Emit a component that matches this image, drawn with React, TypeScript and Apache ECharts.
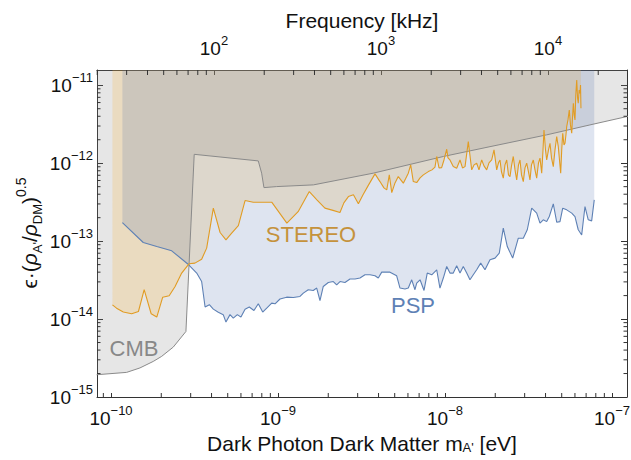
import React, { useEffect, useRef } from "react";
import * as echarts from "echarts";

const FONT = '"Liberation Sans", Arial, Helvetica, sans-serif';
const EV_TO_KHZ = 2.417989e11;

// axis ranges
const massRange = [8.245e-11, 1.23e-7];
const epsRange = [1e-15, 1.57e-11];
const freqRange = [massRange[0] * EV_TO_KHZ, massRange[1] * EV_TO_KHZ];

// minor tick mantissas and decades
const minorMantissas = [2, 3, 4, 5, 6, 7, 8, 9];
const massDecades = [1e-10, 1e-9, 1e-8];
const freqDecades = [10, 100, 1000, 10000];
const epsDecades = [1e-15, 1e-14, 1e-13, 1e-12, 1e-11];

// CMB bound [mass eV, eps]
const cmb: [number, number][] = [
  [8.2e-11, 1.93e-15], [1.24e-10, 2.07e-15], [1.49e-10, 2.36e-15], [1.79e-10, 2.86e-15],
  [2.01e-10, 3.32e-15], [2.36e-10, 4.37e-15], [2.81e-10, 6.93e-15], [3.15e-10, 1.3e-12],
  [7.62e-10, 1.07e-12], [7.98e-10, 7.45e-13], [8.24e-10, 4.86e-13], [9.82e-10, 5.01e-13],
  [1.63e-9, 5.27e-13], [3.72e-9, 7.45e-13], [9.78e-9, 1.22e-12], [1.86e-8, 1.63e-12],
  [4.06e-8, 2.31e-12], [7.38e-8, 3.1e-12], [1.25e-7, 4.0e-12],
];

// STEREO bound
const stereo: [number, number][] = [
  [1.02e-10, 1.52e-14], [1.08e-10, 1.38e-14], [1.185e-10, 1.23e-14], [1.33e-10, 1.17e-14],
  [1.46e-10, 1.25e-14], [1.58e-10, 2.38e-14], [1.74e-10, 1.17e-14], [1.88e-10, 1.06e-14],
  [2.04e-10, 1.91e-14], [2.23e-10, 1.99e-14], [2.42e-10, 2.62e-14], [2.65e-10, 3.89e-14],
  [2.93e-10, 5.12e-14], [3.18e-10, 5.22e-14], [3.49e-10, 5.87e-14], [3.74e-10, 8.13e-14],
  [4.1e-10, 2.65e-13], [4.5e-10, 1.29e-13], [4.88e-10, 1.04e-13], [5.28e-10, 1.27e-13],
  [5.79e-10, 1.58e-13], [6.35e-10, 3.32e-13], [7.11e-10, 3.16e-13], [9.17e-10, 3.16e-13],
  [1.13e-9, 1.7e-13], [1.32e-9, 2.39e-13], [1.54e-9, 4.33e-13], [1.71e-9, 3.39e-13],
  [1.91e-9, 2.65e-13], [2.135e-9, 2.48e-13], [2.35e-9, 2.33e-13], [2.48e-9, 3.1e-13],
  [2.64e-9, 3.73e-13], [2.83e-9, 3.93e-13], [3.03e-9, 3.01e-13], [3.23e-9, 3.93e-13],
  [3.46e-9, 5.12e-13], [3.81e-9, 7.29e-13], [4.08e-9, 5.81e-13], [4.31e-9, 4.82e-13],
  [4.48e-9, 4.55e-13], [4.64e-9, 7.08e-13], [4.8e-9, 4.2e-13], [5.02e-9, 5.59e-13],
  [5.25e-9, 6.73e-13], [5.63e-9, 5.54e-13], [6.03e-9, 7.45e-13], [6.23e-9, 9.51e-13],
  [6.46e-9, 5.81e-13], [6.77e-9, 5.64e-13], [7.09e-9, 6.48e-13], [7.42e-9, 7.08e-13],
  [7.95e-9, 7.8e-13], [8.36e-9, 8.21e-13], [8.71e-9, 8.89e-13], [8.92e-9, 1.22e-12],
  [9.21e-9, 8.7e-13], [9.55e-9, 8.78e-13], [9.86e-9, 1.1e-12], [1.024e-8, 1.51e-12],
  [1.042e-8, 1.17e-12], [1.071e-8, 1.1e-12], [1.121e-8, 9.04e-13], [1.175e-8, 8.63e-13],
  [1.23e-8, 1.1e-12], [1.273e-8, 8.7e-13], [1.318e-8, 9.04e-13], [1.379e-8, 1.89e-12],
  [1.445e-8, 8.21e-13], [1.492e-8, 9.51e-13], [1.548e-8, 1.0e-12], [1.598e-8, 8.21e-13],
  [1.659e-8, 1.1e-12], [1.712e-8, 9.23e-13], [1.777e-8, 8.21e-13], [1.834e-8, 1.01e-12],
  [1.904e-8, 1.1e-12], [1.966e-8, 1.48e-12], [2.04e-8, 8.21e-13], [2.091e-8, 1.01e-12],
  [2.135e-8, 1.1e-12], [2.179e-8, 7.74e-13], [2.234e-8, 6.42e-13], [2.287e-8, 9.51e-13],
  [2.342e-8, 1.1e-12], [2.4e-8, 7.08e-13], [2.45e-8, 6.73e-13], [2.502e-8, 9.23e-13],
  [2.564e-8, 1.22e-12], [2.626e-8, 8.21e-13], [2.688e-8, 6.11e-13], [2.755e-8, 9.51e-13],
  [2.813e-8, 1.1e-12], [2.872e-8, 7.08e-13], [2.944e-8, 5.81e-13], [3.013e-8, 8.7e-13],
  [3.085e-8, 1.0e-12], [3.162e-8, 7.74e-13], [3.228e-8, 6.11e-13], [3.296e-8, 9.51e-13],
  [3.379e-8, 1.1e-12], [3.459e-8, 8.21e-13], [3.541e-8, 6.42e-13], [3.63e-8, 1.01e-12],
  [3.706e-8, 1.16e-12], [3.794e-8, 7.45e-13], [3.863e-8, 1.48e-12], [3.916e-8, 2.67e-12],
  [3.998e-8, 1.48e-12], [4.064e-8, 1.1e-12], [4.167e-8, 1.48e-12], [4.254e-8, 1.8e-12],
  [4.343e-8, 1.17e-12], [4.452e-8, 9.04e-13], [4.557e-8, 1.48e-12], [4.667e-8, 2.19e-12],
  [4.769e-8, 1.63e-12], [4.849e-8, 1.1e-12], [4.93e-8, 7.45e-13], [5.0e-8, 1.48e-12],
  [5.07e-8, 2.42e-12], [5.16e-8, 1.72e-12], [5.231e-8, 1.8e-12], [5.3e-8, 2.3e-12],
  [5.355e-8, 2.95e-12], [5.45e-8, 3.59e-12], [5.55e-8, 4.82e-12], [5.64e-8, 3.1e-12],
  [5.74e-8, 2.42e-12], [5.8e-8, 3.81e-12], [5.87e-8, 5.88e-12], [5.94e-8, 4.16e-12],
  [6.004e-8, 3.59e-12], [6.07e-8, 7.51e-12], [6.15e-8, 1.17e-11], [6.22e-8, 6.87e-12],
  [6.28e-8, 5.88e-12], [6.36e-8, 8.7e-12], [6.433e-8, 7.89e-12], [6.48e-8, 1.01e-11],
  [6.52e-8, 5.07e-12],
];

// PSP bound
const psp: [number, number][] = [
  [1.17e-10, 1.73e-13], [1.56e-10, 9.6e-14], [1.88e-10, 8.53e-14], [2.31e-10, 7.51e-14],
  [2.92e-10, 4.97e-14], [3.26e-10, 3.89e-14], [3.49e-10, 3.03e-14], [3.66e-10, 1.43e-14],
  [3.88e-10, 1.53e-14], [4.1e-10, 1.34e-14], [4.39e-10, 1.22e-14], [4.7e-10, 1.14e-14],
  [4.88e-10, 9.15e-15], [5.16e-10, 1.14e-14], [5.4e-10, 1.03e-14], [5.71e-10, 1.14e-14],
  [6.0e-10, 1.06e-14], [6.35e-10, 1.34e-14], [6.73e-10, 1.43e-14], [7.18e-10, 1.29e-14],
  [7.62e-10, 1.57e-14], [8.1e-10, 1.23e-14], [8.56e-10, 1.38e-14], [9.17e-10, 1.6e-14],
  [9.6e-10, 1.57e-14], [1.028e-9, 1.81e-14], [1.127e-9, 1.91e-14], [1.235e-9, 1.89e-14],
  [1.354e-9, 1.95e-14], [1.418e-9, 2.15e-14], [1.518e-9, 2.38e-14], [1.627e-9, 2.33e-14],
  [1.705e-9, 2.5e-14], [1.784e-9, 1.73e-14], [1.867e-9, 2.62e-14], [2.001e-9, 2.95e-14],
  [2.144e-9, 3.03e-14], [2.246e-9, 2.75e-14], [2.351e-9, 3.03e-14], [2.518e-9, 2.95e-14],
  [2.699e-9, 3.26e-14], [2.892e-9, 3.26e-14], [3.097e-9, 3.36e-14], [3.319e-9, 3.7e-14],
  [3.556e-9, 3.7e-14], [3.81e-9, 3.59e-14], [3.987e-9, 3.36e-14], [4.18e-9, 4.0e-14],
  [4.685e-9, 4.0e-14], [5.137e-9, 3.59e-14], [5.377e-9, 2.5e-14], [5.762e-9, 2.43e-14],
  [6.03e-9, 2.5e-14], [6.32e-9, 3.19e-14], [6.61e-9, 2.38e-14], [6.77e-9, 2.89e-14],
  [7.09e-9, 3.19e-14], [7.49e-9, 2.33e-14], [7.83e-9, 3.89e-14], [8.33e-9, 3.7e-14],
  [8.92e-9, 4.29e-14], [9.33e-9, 2.5e-14], [9.77e-9, 3.36e-14], [1.024e-8, 4.73e-14],
  [1.071e-8, 3.89e-14], [1.121e-8, 3.89e-14], [1.175e-8, 4.82e-14], [1.23e-8, 3.89e-14],
  [1.287e-8, 4.73e-14], [1.349e-8, 3.89e-14], [1.411e-8, 3.19e-14], [1.477e-8, 3.7e-14],
  [1.548e-8, 4.29e-14], [1.636e-8, 5.22e-14], [1.736e-8, 4.29e-14], [1.86e-8, 5.76e-14],
  [1.993e-8, 6.05e-14], [2.114e-8, 7.02e-14], [2.234e-8, 1.47e-13], [2.361e-8, 8.53e-14],
  [2.543e-8, 6.05e-14], [2.748e-8, 1.09e-13], [2.944e-8, 1.09e-13], [3.11e-8, 1.4e-13],
  [3.306e-8, 2.65e-13], [3.541e-8, 2.29e-13], [3.706e-8, 1.7e-13], [3.878e-8, 1.88e-13],
  [4.064e-8, 1.78e-13], [4.213e-8, 2.07e-13], [4.452e-8, 3.01e-13], [4.667e-8, 1.75e-13],
  [4.882e-8, 1.78e-13], [5.07e-8, 2.65e-13], [5.355e-8, 2.52e-13], [5.74e-8, 2.29e-13],
  [6.004e-8, 2.07e-13], [6.28e-8, 1.4e-13], [6.585e-8, 1.2e-13], [6.892e-8, 2.78e-13],
  [7.21e-8, 1.88e-13], [7.556e-8, 1.82e-13], [7.83e-8, 3.38e-13],
];

const COLORS = {
  stereo: "#E19C24",
  psp: "#5E81B5",
  cmb: "#8a8a8a",
  frame: "#333333",
  text: "#111111",
  cmbFill: "rgba(128,128,128,0.2)",
  stereoFill: "rgba(250,182,60,0.22)",
  pspFill: "rgba(72,105,172,0.18)",
};

function powLabel(v: number): string {
  const e = Math.log10(v);
  const r = Math.round(e);
  if (Math.abs(e - r) > 1e-6) return "";
  return `{b|10}{s|${r < 0 ? "\u2212" : ""}${Math.abs(r)}}`;
}

const tickRich = {
  b: { fontSize: 19, lineHeight: 28, fontFamily: FONT, color: COLORS.text },
  s: { fontSize: 13, verticalAlign: "top", fontFamily: FONT, color: COLORS.text },
};

function tickSeries(xAxisIndex: number, data: number[][], kind: string, len: number) {
  return {
    type: "custom",
    xAxisIndex,
    yAxisIndex: 0,
    silent: true,
    z: 20,
    clip: false,
    data,
    encode: { x: 0, y: 1 },
    renderItem: (params: any, api: any) => {
      const p = api.coord([api.value(0), api.value(1)]);
      const cs = params.coordSys;
      const left = cs.x;
      const right = cs.x + cs.width;
      const top = cs.y;
      const bottom = cs.y + cs.height;
      const style = { stroke: COLORS.frame, lineWidth: 1 };
      if (kind === "bottom") {
        return { type: "line", shape: { x1: p[0], y1: bottom, x2: p[0], y2: bottom - len }, style };
      }
      if (kind === "top") {
        return { type: "line", shape: { x1: p[0], y1: top, x2: p[0], y2: top + len }, style };
      }
      return {
        type: "group",
        children: [
          { type: "line", shape: { x1: left, y1: p[1], x2: left + len, y2: p[1] }, style },
          { type: "line", shape: { x1: right, y1: p[1], x2: right - len, y2: p[1] }, style },
        ],
      };
    },
  };
}

export default function App() {
  const ref = useRef<HTMLDivElement>(null);

  useEffect(() => {
    document.body.style.margin = "0";
    if (!ref.current) return;
    const chart = echarts.init(ref.current, undefined, { renderer: "svg" });

    const massMinor: number[][] = [];
    massDecades.forEach((d) => minorMantissas.forEach((k) => massMinor.push([k * d, epsRange[0]])));
    massMinor.push([9e-11, epsRange[0]]);
    const freqMinor: number[][] = [];
    freqDecades.forEach((d) =>
      minorMantissas.forEach((k) => {
        const f = k * d;
        if (f > freqRange[0] && f < freqRange[1]) freqMinor.push([f, epsRange[0]]);
      })
    );
    const epsMinor: number[][] = [];
    epsDecades.forEach((d) =>
      minorMantissas.forEach((k) => {
        const e = k * d;
        if (e < epsRange[1]) epsMinor.push([massRange[0], e]);
      })
    );

    const axisLine = { show: true, onZero: false, lineStyle: { color: COLORS.frame, width: 1 } };

    const areaSeries = (data: [number, number][], fill: string) => ({
      type: "line",
      data,
      symbol: "none",
      silent: true,
      z: 1,
      lineStyle: { width: 0, opacity: 0 },
      areaStyle: { color: fill, origin: "end", opacity: 1 },
    });
    const lineSeries = (data: [number, number][], color: string, width: number) => ({
      type: "line",
      data,
      symbol: "none",
      silent: true,
      z: 3,
      lineStyle: { color, width },
    });

    chart.setOption({
      animation: false,
      backgroundColor: "#ffffff",
      textStyle: { fontFamily: FONT },
      grid: { left: 97, right: 4, top: 70, bottom: 63, containLabel: false, outerBoundsMode: "none" },
      xAxis: [
        {
          type: "log",
          logBase: 10,
          min: massRange[0],
          max: massRange[1],
          position: "bottom",
          splitNumber: 10,
          axisLine,
          axisTick: { show: true, inside: true, length: 4, lineStyle: { color: COLORS.frame } },
          axisLabel: { formatter: powLabel, rich: tickRich, margin: 7, showMinLabel: false, showMaxLabel: false },
          splitLine: { show: false },
        },
        {
          type: "log",
          logBase: 10,
          min: freqRange[0],
          max: freqRange[1],
          position: "top",
          splitNumber: 10,
          axisLine,
          axisTick: { show: true, inside: true, length: 5, lineStyle: { color: COLORS.frame } },
          axisLabel: { formatter: powLabel, rich: tickRich, margin: 8, showMinLabel: false, showMaxLabel: false },
          splitLine: { show: false },
        },
      ],
      yAxis: [
        {
          type: "log",
          logBase: 10,
          min: epsRange[0],
          max: epsRange[1],
          position: "left",
          splitNumber: 10,
          axisLine,
          axisTick: { show: true, inside: true, length: 6, lineStyle: { color: COLORS.frame } },
          axisLabel: { formatter: powLabel, rich: tickRich, margin: 4, showMinLabel: true, showMaxLabel: false },
          splitLine: { show: false },
        },
        {
          type: "log",
          logBase: 10,
          min: epsRange[0],
          max: epsRange[1],
          position: "right",
          splitNumber: 10,
          axisLine,
          axisTick: { show: true, inside: true, length: 6, lineStyle: { color: COLORS.frame } },
          axisLabel: { show: false },
          splitLine: { show: false },
        },
      ],
      series: [
        areaSeries(cmb, COLORS.cmbFill),
        areaSeries(stereo, COLORS.stereoFill),
        areaSeries(psp, COLORS.pspFill),
        lineSeries(cmb, COLORS.cmb, 1),
        lineSeries(psp, COLORS.psp, 1.1),
        lineSeries(stereo, COLORS.stereo, 1.1),
        tickSeries(0, massMinor, "bottom", 4),
        tickSeries(1, freqMinor, "top", 5),
        tickSeries(0, epsMinor, "side", 3.5),
      ],
      graphic: [
        {
          type: "text",
          x: 362,
          y: 20,
          style: { text: "Frequency [kHz]", font: `21px ${FONT}`, fill: COLORS.text, align: "center", verticalAlign: "middle" },
        },
        {
          type: "text",
          x: 362,
          y: 443,
          style: {
            text: "Dark Photon Dark Matter m{sub|A'} [eV]",
            fontSize: 21,
            fontFamily: FONT,
            fill: COLORS.text,
            align: "center",
            verticalAlign: "middle",
            rich: {
              sub: { fontSize: 13, verticalAlign: "bottom", fontFamily: FONT, fill: COLORS.text },
            },
          },
        },
        {
          type: "text",
          x: 29,
          y: 233,
          rotation: Math.PI / 2,
          style: {
            text: "{n|\u03F5\u00B7(}{g|\u03C1}{sub|A'}{n|/}{g|\u03C1}{sub|DM}{n|)}{sup|0.5}",
            align: "center",
            verticalAlign: "middle",
            rich: {
              n: { fontSize: 21, lineHeight: 30, fontFamily: FONT, fill: COLORS.text },
              g: { fontSize: 21, fontStyle: "italic", fontFamily: FONT, fill: COLORS.text },
              sub: { fontSize: 13, verticalAlign: "bottom", fontFamily: FONT, fill: COLORS.text },
              sup: { fontSize: 14, verticalAlign: "top", fontFamily: FONT, fill: COLORS.text },
            },
          },
        },
        {
          type: "text",
          x: 311,
          y: 234,
          style: { text: "STEREO", font: `22px ${FONT}`, fill: COLORS.stereo, align: "center", verticalAlign: "middle" },
        },
        {
          type: "text",
          x: 413,
          y: 305,
          style: { text: "PSP", font: `22px ${FONT}`, fill: COLORS.psp, align: "center", verticalAlign: "middle" },
        },
        {
          type: "text",
          x: 134,
          y: 348,
          style: { text: "CMB", font: `22px ${FONT}`, fill: COLORS.cmb, align: "center", verticalAlign: "middle" },
        },
      ],
    });

    return () => chart.dispose();
  }, []);

  return <div ref={ref} style={{ width: 631, height: 460 }} />;
}
